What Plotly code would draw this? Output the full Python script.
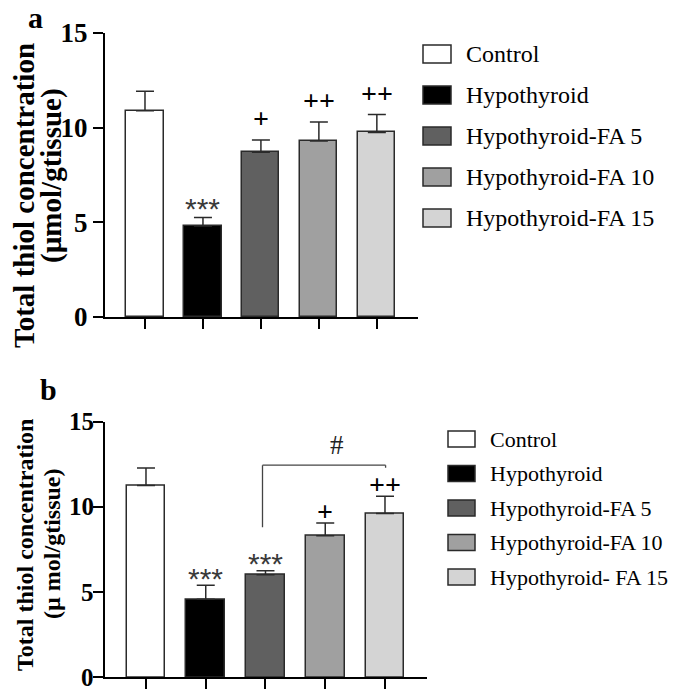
import plotly.graph_objects as go

W, H = 685, 690

# ---------------- data ----------------
groups_a = ["Control", "Hypothyroid", "Hypothyroid-FA 5", "Hypothyroid-FA 10", "Hypothyroid-FA 15"]
values_a = [10.9, 4.8, 8.7, 9.3, 9.75]
errors_a = [1.03, 0.46, 0.65, 1.0, 0.95]
marks_a = ["", "***", "+", "++", "++"]

groups_b = ["Control", "Hypothyroid", "Hypothyroid-FA 5", "Hypothyroid-FA 10", "Hypothyroid- FA 15"]
values_b = [11.25, 4.58, 6.02, 8.31, 9.62]
errors_b = [1.04, 0.82, 0.24, 0.74, 1.0]
marks_b = ["", "***", "***", "+", "++"]

# comparison bracket in panel b (FA 5 vs FA 15)
bracket_b = dict(start=2, end=4, level=12.45, left_drop=8.8, right_drop=12.3, label="#")

y_ticks = [0, 5, 10, 15]
title_line1 = "Total thiol concentration"
title_line2_a = "(µmol/gtissue)"
title_line2_b = "(µ mol/gtissue)"

colors = ["#ffffff", "#000000", "#606060", "#a0a0a0", "#d4d4d4"]
SERIF = "Liberation Serif, Times New Roman, serif"
SANS = "Liberation Sans, Arial, sans-serif"


def px_x(x):
    return x / W


def px_y(y):
    return 1 - y / H


fig = go.Figure()

fig.add_trace(go.Bar(
    x=list(range(len(groups_a))), y=values_a, width=0.64,
    marker=dict(color=colors, line=dict(color="#2a2a2a", width=1.5)),
    error_y=dict(type="data", array=errors_a, arrayminus=[0] * 5, symmetric=False,
                 color="#2a2a2a", thickness=1.5, width=9),
    xaxis="x", yaxis="y", showlegend=False, hoverinfo="skip"))

fig.add_trace(go.Bar(
    x=list(range(len(groups_b))), y=values_b, width=0.65,
    marker=dict(color=colors, line=dict(color="#2a2a2a", width=1.5)),
    error_y=dict(type="data", array=errors_b, arrayminus=[0] * 5, symmetric=False,
                 color="#2a2a2a", thickness=1.5, width=9),
    xaxis="x2", yaxis="y2", showlegend=False, hoverinfo="skip"))

axis_common = dict(showline=True, linecolor="black", linewidth=2, showgrid=False,
                   zeroline=False, ticks="outside", ticklen=10, tickwidth=2, tickcolor="black",
                   automargin=False, fixedrange=True)

fig.update_layout(
    template="none",
    width=W, height=H, margin=dict(l=0, r=0, t=0, b=0, pad=0, autoexpand=False),
    plot_bgcolor="white", paper_bgcolor="white", bargap=0,
    xaxis=dict(domain=[px_x(105), px_x(418)], range=[-0.69, 4.71],
               tickvals=list(range(5)), showticklabels=False, anchor="y", **axis_common),
    yaxis=dict(domain=[px_y(317), px_y(33)], range=[0, 15], tickvals=y_ticks,
               tickfont=dict(family=SERIF, size=27, color="black", weight="bold"),
               anchor="x", **axis_common),
    xaxis2=dict(domain=[px_x(105), px_x(426.7)], range=[-0.686, 4.698],
                tickvals=list(range(5)), showticklabels=False, anchor="y2", **axis_common),
    yaxis2=dict(domain=[px_y(677.3), px_y(421.7)], range=[0, 15], tickvals=y_ticks,
                showticklabels=False, anchor="x2", **axis_common),
)

annotations = []
shapes = []

# panel b tick labels (drawn as text so the bottom one is not dropped at the page edge)
for t in y_ticks:
    annotations.append(dict(x=px_x(95), y=t, xref="paper", yref="y2", text=str(t),
                            showarrow=False, xanchor="right", yanchor="middle", borderpad=0,
                            font=dict(family=SERIF, size=25, color="black", weight="bold")))


def add_marks(marks, values, errors, xref, yref, star_shift, plus_shift):
    for i, m in enumerate(marks):
        if not m:
            continue
        if "*" in m:
            font = dict(family=SANS, size=30, color="#3a3a3a")
            shift = star_shift
        else:
            font = dict(family=SERIF, size=28, color="black", weight="bold")
            shift = plus_shift
        annotations.append(dict(x=i, y=values[i] + errors[i], xref=xref, yref=yref,
                                text=m, showarrow=False, font=font,
                                xanchor="center", yanchor="middle", yshift=shift))


add_marks(marks_a, values_a, errors_a, "x", "y", 9, 21)
add_marks(marks_b, values_b, errors_b, "x2", "y2", 7, 12)

# bracket panel b
bk = bracket_b
line_style = dict(color="#444444", width=1.3)
shapes.append(dict(type="line", xref="x2", yref="y2", x0=bk["start"] - 0.05, x1=bk["end"] + 0.01,
                   y0=bk["level"], y1=bk["level"], line=line_style))
shapes.append(dict(type="line", xref="x2", yref="y2", x0=bk["start"] - 0.05, x1=bk["start"] - 0.05,
                   y0=bk["level"], y1=bk["left_drop"], line=line_style))
shapes.append(dict(type="line", xref="x2", yref="y2", x0=bk["end"] + 0.01, x1=bk["end"] + 0.01,
                   y0=bk["level"], y1=bk["right_drop"], line=line_style))
annotations.append(dict(x=(bk["start"] + bk["end"]) / 2 + 0.2, y=bk["level"], xref="x2", yref="y2",
                        text=bk["label"], showarrow=False, yanchor="bottom", yshift=3,
                        font=dict(family=SERIF, size=27, color="#222222")))


# legends (manual)
def add_legend(groups, box_x0, box_x1, text_x, y0, step, box_h, font_size):
    for i, g in enumerate(groups):
        yc = y0 + i * step
        shapes.append(dict(type="rect", xref="paper", yref="paper",
                           x0=px_x(box_x0), x1=px_x(box_x1),
                           y0=px_y(yc - box_h / 2), y1=px_y(yc + box_h / 2),
                           fillcolor=colors[i], line=dict(color="#2a2a2a", width=1.5)))
        annotations.append(dict(x=px_x(text_x), y=px_y(yc), xref="paper", yref="paper",
                                text=g, showarrow=False, xanchor="left", yanchor="middle",
                                font=dict(family=SERIF, size=font_size, color="black")))


add_legend(groups_a, 423, 451, 464, 54, 41, 18, 24)
add_legend(groups_b, 448, 475, 488, 439, 34.5, 16, 22)

# y-axis titles
for (x, y, txt, size) in [(24, 196, title_line1, 29), (52, 176, title_line2_a, 29),
                          (25, 545, title_line1, 24), (52, 544, title_line2_b, 24)]:
    annotations.append(dict(x=px_x(x), y=px_y(y), xref="paper", yref="paper", text=txt,
                            textangle=-90, showarrow=False, xanchor="center", yanchor="middle",
                            font=dict(family=SERIF, size=size, color="black", weight="bold")))

# panel labels
annotations.append(dict(x=px_x(35.5), y=1, xref="paper", yref="paper", text="a",
                        showarrow=False, xanchor="center", yanchor="top", borderpad=0,
                        font=dict(family=SERIF, size=30, color="black", weight="bold")))
annotations.append(dict(x=px_x(48.5), y=px_y(390), xref="paper", yref="paper", text="b",
                        showarrow=False, xanchor="center", yanchor="middle",
                        font=dict(family=SERIF, size=30, color="black", weight="bold")))

fig.update_layout(annotations=annotations, shapes=shapes)
fig.write_html("out.html", config={"displayModeBar": False},
               post_script="document.body.style.margin='0';document.body.style.overflow='hidden';")
